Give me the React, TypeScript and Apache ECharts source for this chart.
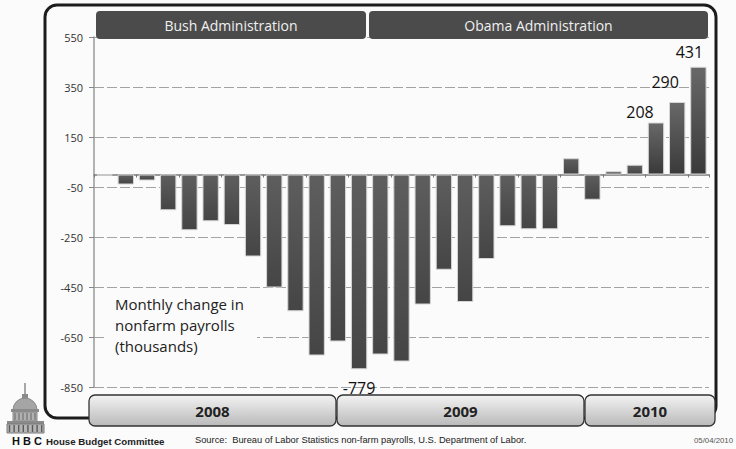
import React, { useEffect, useRef } from "react";
import * as echarts from "echarts";

const months = [
  "2008-01", "2008-02", "2008-03", "2008-04", "2008-05", "2008-06", "2008-07", "2008-08", "2008-09", "2008-10", "2008-11", "2008-12",
  "2009-01", "2009-02", "2009-03", "2009-04", "2009-05", "2009-06", "2009-07", "2009-08", "2009-09", "2009-10", "2009-11", "2009-12",
  "2010-01", "2010-02", "2010-03", "2010-04", "2010-05",
];
const payrolls = [
  -4, -40, -24, -143, -223, -187, -202, -328, -452, -547, -724, -668,
  -779, -720, -748, -520, -381, -510, -338, -207, -219, -219, 65, -101,
  13, 39, 208, 290, 431,
];
const labeledMonths = ["2009-01", "2010-03", "2010-04", "2010-05"];
const yMin = -850;
const yMax = 550;
const yStep = 200;
const administrations = ["Bush Administration", "Obama Administration"];
const years = ["2008", "2009", "2010"];
const axisTitle = "Monthly change in\nnonfarm payrolls\n(thousands)";
const committee = "House Budget Committee";
const sourceText = "Source:  Bureau of Labor Statistics non-farm payrolls, U.S. Department of Labor.";
const dateText = "05/04/2010";

const FONT = "'Open Sans', 'Noto Sans', sans-serif";
const BG = "#fbfbfb";

export default function App() {
  const ref = useRef<HTMLDivElement>(null);

  useEffect(() => {
    if (!ref.current) return;
    const chart = echarts.init(ref.current, undefined, { renderer: "svg" });

    const labelStyle: Record<string, any> = {
      "2009-01": { position: "bottom", distance: 11, offset: [0, 0] },
      "2010-03": { position: "top", distance: 3, offset: [-16, 0] },
      "2010-04": { position: "top", distance: 12, offset: [-12, 0] },
      "2010-05": { position: "top", distance: 7, offset: [-9, 0] },
    };

    const barGradient = new echarts.graphic.LinearGradient(0, 0, 0, 1, [
      { offset: 0, color: "#5e5e5e" },
      { offset: 1, color: "#454545" },
    ]);
    const posGradient = new echarts.graphic.LinearGradient(0, 0, 0, 1, [
      { offset: 0, color: "#686868" },
      { offset: 1, color: "#3a3a3a" },
    ]);

    const data = payrolls.map((v, i) => {
      const m = months[i];
      const item: any = {
        value: v,
        itemStyle: { color: v > 100 ? posGradient : barGradient },
      };
      if (labeledMonths.includes(m)) {
        const ls = labelStyle[m];
        item.label = {
          show: true,
          position: ls.position,
          distance: ls.distance,
          offset: ls.offset,
          formatter: String(v),
          fontFamily: FONT,
          fontSize: 16,
          color: "#111",
        };
      }
      return item;
    });

    // Capitol logo pieces
    const logoColor = "#8a8a8a";
    const logo: any[] = [
      { type: "line", shape: { x1: 25, y1: 383, x2: 25, y2: 394 }, style: { stroke: logoColor, lineWidth: 1.5 } },
      { type: "rect", shape: { x: 22, y: 394, width: 6, height: 6 }, style: { fill: logoColor } },
      { type: "sector", shape: { cx: 25, cy: 410, r: 12, startAngle: Math.PI, endAngle: 2 * Math.PI }, style: { fill: "#a5a5a5", stroke: logoColor } },
      { type: "rect", shape: { x: 11, y: 409, width: 28, height: 3 }, style: { fill: logoColor } },
      { type: "rect", shape: { x: 13, y: 412, width: 24, height: 9 }, style: { fill: "#b0b0b0", stroke: logoColor, lineWidth: 1 } },
      { type: "rect", shape: { x: 7, y: 421, width: 37, height: 3 }, style: { fill: logoColor } },
      { type: "rect", shape: { x: 7, y: 424, width: 37, height: 9 }, style: { fill: "#b5b5b5", stroke: "#7a7a7a", lineWidth: 1 } },
    ];
    for (let k = 0; k < 8; k++) {
      logo.push({ type: "line", shape: { x1: 9.5 + k * 4.6, y1: 425, x2: 9.5 + k * 4.6, y2: 432 }, style: { stroke: "#5a5a5a", lineWidth: 1.4 } });
    }
    for (let k = 0; k < 6; k++) {
      logo.push({ type: "line", shape: { x1: 15 + k * 4, y1: 413, x2: 15 + k * 4, y2: 420 }, style: { stroke: "#666", lineWidth: 1 } });
    }

    const band = (x: number, w: number, label: string) => [
      {
        type: "rect",
        z: 100,
        shape: { x, y: 395, width: w, height: 31, r: 6 },
        style: {
          fill: new echarts.graphic.LinearGradient(0, 0, 0, 1, [
            { offset: 0, color: "#f3f3f3" },
            { offset: 1, color: "#b9b9b9" },
          ]),
          stroke: "#333",
          lineWidth: 1.3,
        },
      },
      {
        type: "text",
        z: 101,
        x: x + w / 2,
        y: 411,
        style: { text: label, fill: "#222", font: `bold 15px ${FONT}`, align: "center", verticalAlign: "middle" },
      },
    ];

    const header = (x: number, w: number, label: string) => [
      { type: "rect", z: 100, shape: { x, y: 11, width: w, height: 28, r: 4 }, style: { fill: "#4b4b4b" } },
      {
        type: "text",
        z: 101,
        x: x + w / 2,
        y: 25,
        style: { text: label, fill: "#f0f0f0", font: `14px ${FONT}`, align: "center", verticalAlign: "middle" },
      },
    ];

    chart.setOption({
      animation: false,
      backgroundColor: BG,
      grid: { left: 94, right: 27, top: 37, bottom: 62, containLabel: false },
      xAxis: {
        type: "category",
        data: months,
        boundaryGap: true,
        axisLine: { show: true, onZero: true, lineStyle: { color: "#9a9a9a", width: 2 } },
        axisTick: { show: true, interval: 1, length: 3, lineStyle: { color: "#777" } },
        axisLabel: { show: false },
        splitLine: { show: false },
      },
      yAxis: {
        type: "value",
        min: yMin,
        max: yMax,
        interval: yStep,
        axisLine: { show: true, lineStyle: { color: "#9a9a9a", width: 1.5 } },
        axisTick: { show: true, length: 5, lineStyle: { color: "#888" } },
        axisLabel: { color: "#333", fontSize: 11, fontFamily: FONT, margin: 11 },
        splitLine: { show: true, lineStyle: { color: "#a3a3a3", type: [10, 3], width: 1 } },
      },
      series: [
        {
          type: "bar",
          data,
          barCategoryGap: "23%",
          itemStyle: { borderColor: "#d6d6d6", borderWidth: 1 },
          z: 3,
        },
      ],
      graphic: [
        { type: "rect", z: 5, shape: { x: 107, y: 291, width: 150, height: 70 }, style: { fill: BG } },
        {
          type: "text",
          z: 6,
          x: 115,
          y: 293,
          style: { text: axisTitle, fill: "#222", font: `15px ${FONT}`, lineHeight: 21 },
        },
        {
          type: "rect",
          z: 99,
          shape: { x: 45, y: 5, width: 671, height: 413, r: 12 },
          style: { fill: "none", stroke: "#1c1c1c", lineWidth: 3 },
        },
        ...header(96, 270, administrations[0]),
        ...header(369, 339, administrations[1]),
        ...band(89, 247, years[0]),
        ...band(337, 247, years[1]),
        ...band(585, 130, years[2]),
        ...logo.map((e) => ({ ...e, z: 50 })),
        {
          type: "text",
          z: 50,
          x: 12,
          y: 441,
          style: { text: "H B C", fill: "#111", font: "bold 11px 'Liberation Sans', sans-serif", verticalAlign: "middle" },
        },
        {
          type: "text",
          z: 50,
          x: 46,
          y: 441,
          style: { text: committee, fill: "#222", font: "bold 9.7px 'Liberation Sans', sans-serif", verticalAlign: "middle" },
        },
        {
          type: "text",
          z: 50,
          x: 195,
          y: 440,
          style: { text: sourceText, fill: "#222", font: "9.3px 'Liberation Sans', sans-serif", verticalAlign: "middle" },
        },
        {
          type: "text",
          z: 50,
          x: 694,
          y: 440,
          style: { text: dateText, fill: "#555", font: "7.8px 'Liberation Sans', sans-serif", verticalAlign: "middle" },
        },
      ],
    });

    return () => chart.dispose();
  }, []);

  return (
    <div
      ref={ref}
      style={{ position: "fixed", left: 0, top: 0, width: 736, height: 449 }}
    />
  );
}
